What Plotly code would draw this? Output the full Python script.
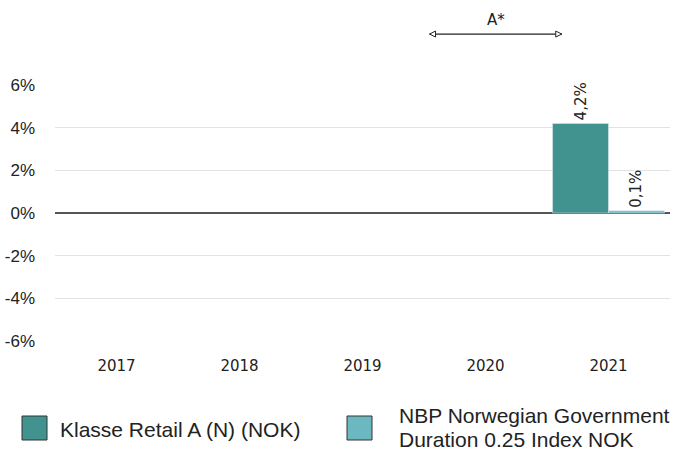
import plotly.graph_objects as go

years = ["2017", "2018", "2019", "2020", "2021"]
fund_values = [None, None, None, None, 4.2]
bench_values = [None, None, None, None, 0.1]
fund_labels = ["", "", "", "", "4,2%"]
bench_labels = ["", "", "", "", "0,1%"]
fund_name = "Klasse Retail A (N) (NOK)"
bench_lines = ["NBP Norwegian Government", "Duration 0.25 Index NOK"]
y_ticks = [-6, -4, -2, 0, 2, 4, 6]
y_tick_text = ["-6%", "-4%", "-2%", "0%", "2%", "4%", "6%"]

c_fund = "#41938F"
c_bench = "#6CB8C0"

L = 55
W = 615

fig = go.Figure()
fig.add_trace(go.Bar(x=years, y=fund_values, name=fund_name, marker_color=c_fund,
                     text=fund_labels, textposition="outside", textangle=-90,
                     textfont=dict(family="DejaVu Sans", size=15, color="#222"),
                     cliponaxis=False, showlegend=False, hoverinfo="skip"))
fig.add_trace(go.Bar(x=years, y=bench_values, name=" ".join(bench_lines), marker_color=c_bench,
                     text=bench_labels, textposition="outside", textangle=-90,
                     textfont=dict(family="DejaVu Sans", size=15, color="#222"),
                     cliponaxis=False, showlegend=False, hoverinfo="skip"))

fig.update_layout(
    width=676, height=452,
    margin=dict(l=L, r=676 - L - W, t=85, b=111),
    paper_bgcolor="white", plot_bgcolor="white",
    barmode="group", bargap=0.09, bargroupgap=0,
    font=dict(family="DejaVu Sans", size=15, color="#222"),
    xaxis=dict(type="category", range=[-0.5, 4.5], showgrid=False, ticks="",
               ticklabelstandoff=14, tickfont=dict(family="DejaVu Sans", size=15)),
    yaxis=dict(range=[-6, 6], tickvals=y_ticks, ticktext=y_tick_text,
               showgrid=True, gridcolor="#e3e3e3", gridwidth=1,
               zeroline=True, zerolinecolor="#555", zerolinewidth=1.5,
               ticklabelstandoff=19, tickfont=dict(family="Liberation Sans", size=17)),
)

# A* period arrow
x0, x1 = 2.545, 3.62
yp = 1.199
fig.add_shape(type="line", xref="x", yref="paper", x0=x0, x1=x1, y0=yp, y1=yp,
              line=dict(color="#222", width=1.2))
fig.add_shape(type="path", xref="x", yref="paper", xsizemode="pixel", ysizemode="pixel",
              xanchor=x0, yanchor=yp, path="M 0,0 L 6,3 L 6,-3 Z",
              line=dict(color="#222", width=1), fillcolor="white")
fig.add_shape(type="path", xref="x", yref="paper", xsizemode="pixel", ysizemode="pixel",
              xanchor=x1, yanchor=yp, path="M 0,0 L -6,3 L -6,-3 Z",
              line=dict(color="#222", width=1), fillcolor="white")
fig.add_annotation(x=(x0 + x1) / 2, y=1.254, xref="x", yref="paper", text="A*",
                   showarrow=False, xanchor="center", yanchor="middle",
                   font=dict(family="DejaVu Sans", size=15, color="#222"))

# custom legend
def px_to_paper_x(px):
    return (px - L) / W

def py_to_paper_y(py):
    return (341 - py) / 256

legend_items = [(22, 60, [fund_name], [429], c_fund),
                (347, 399, bench_lines, [415.5, 439.5], c_bench)]
for (sx, tx, lines, ys, col) in legend_items:
    fig.add_shape(type="rect", xref="paper", yref="paper",
                  x0=px_to_paper_x(sx), x1=px_to_paper_x(sx + 25),
                  y0=py_to_paper_y(440), y1=py_to_paper_y(416),
                  fillcolor=col, line=dict(color="#333", width=1))
    for line, ly in zip(lines, ys):
        fig.add_annotation(xref="paper", yref="paper", x=px_to_paper_x(tx), y=py_to_paper_y(ly),
                           text=line, showarrow=False, xanchor="left", yanchor="middle",
                           align="left", borderpad=0, xshift=-1,
                           font=dict(family="Liberation Sans", size=21, color="#222"))

fig.write_html("out.html", config={"displayModeBar": False},
               post_script="document.body.style.margin='0px';")
